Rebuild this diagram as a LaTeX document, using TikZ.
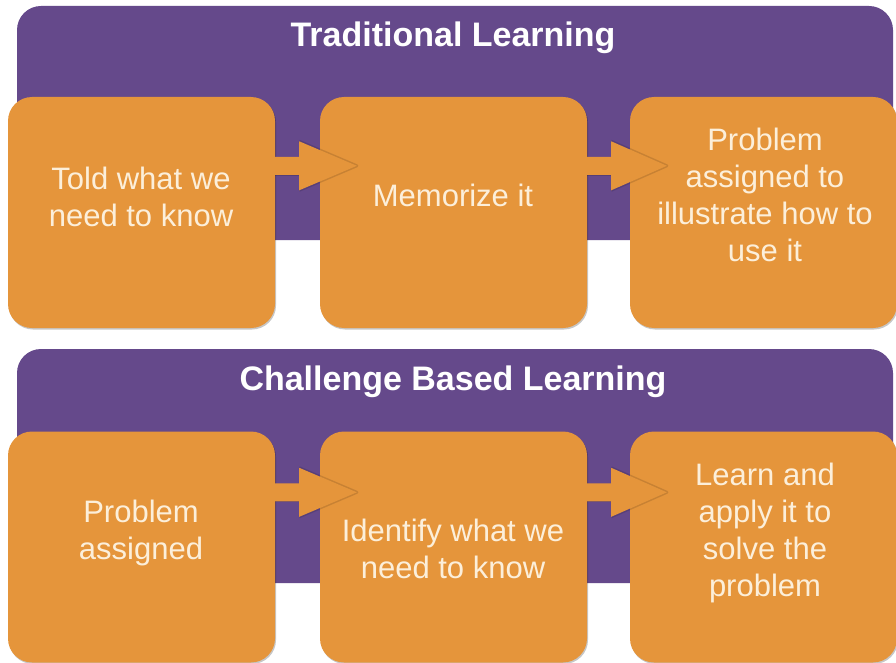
\documentclass[tikz,border=0pt]{standalone}
\usepackage{fontspec}
\setmainfont{Liberation Sans}
\usetikzlibrary{calc,shadows}
\definecolor{bandpurple}{RGB}{101,73,139}
\definecolor{boxorange}{RGB}{229,149,59}
\definecolor{textcream}{RGB}{252,239,218}
\tikzset{arrowshade/.style={draw=black, opacity=.13, line width=3pt, line join=round}}
\newcommand\flowarrow[3]{%
  % #1 from node, #2 to node, #3 offset of the arrow axis below the top of the cards
  \draw[arrowshade]
    ($(#1.north east)+(24,#3-24.5)$) --
    ($(#2.north west)+(37,#3)$) --
    ($(#1.north east)+(24,#3+24.5)$);
  \draw[black, opacity=.15, line width=1pt]
    ($(#1.north east)+(0,#3+9.5)$) -- ($(#1.north east)+(24,#3+9.5)$);
  \fill[boxorange]
    ($(#1.north east)+(0,#3-9)$) --
    ($(#1.north east)+(24,#3-9)$) --
    ($(#1.north east)+(24,#3-24.5)$) --
    ($(#2.north west)+(37,#3)$) --
    ($(#1.north east)+(24,#3+24.5)$) --
    ($(#1.north east)+(24,#3+9)$) --
    ($(#1.north east)+(0,#3+9)$) -- cycle;}
\begin{document}
\begin{tikzpicture}[x=1pt,y=-1pt,
  band/.style={fill=bandpurple, rounded corners=24pt},
  card/.style={fill=boxorange, rounded corners=24pt, minimum width=267pt,
    minimum height=231pt, inner sep=0pt,
    drop shadow={shadow xshift=1pt,shadow yshift=-1.5pt,opacity=.22,fill=black}},
  cardtext/.style={text=textcream, align=center, font=\fontsize{31}{37}\selectfont, inner sep=0pt},
  title/.style={text=white, font=\bfseries\fontsize{34}{40}\selectfont, anchor=base, inner sep=0pt}]
\useasboundingbox (0,0) rectangle (896,663);
\fill[white] (0,0) rectangle (896,663);
% top band
\fill[band] (17,6) rectangle (893,240);
\node[title] (ttitle) at (453,47) {Traditional Learning};
\node[card] (t1) at (141.5,212.5) {};
\node[cardtext] (t1txt) at (141,197) {Told what we\\need to know};
\node[card] (t2) at (453.5,212.5) {};
\node[cardtext] (t2txt) at (453,195) {Memorize it};
\flowarrow{t1}{t2}{69}
\node[card] (t3) at (763.5,212.5) {};
\node[cardtext] (t3txt) at (765,195) {Problem\\assigned to\\illustrate how to\\use it};
\flowarrow{t2}{t3}{69}
% bottom band
\fill[band] (17,349) rectangle (893,583);
\node[title] (btitle) at (453,390) {Challenge Based Learning};
\node[card] (b1) at (141.5,547) {};
\node[cardtext] (b1txt) at (141,533) {Problem\\assigned};
\node[card] (b2) at (453.5,547) {};
\node[cardtext] (b2txt) at (453,549) {Identify what we\\need to know};
\flowarrow{b1}{b2}{61}
\node[card] (b3) at (763.5,547) {};
\node[cardtext] (b3txt) at (765,533) {Learn and\\apply it to\\solve the\\problem};
\flowarrow{b2}{b3}{61}
\end{tikzpicture}
\end{document}
